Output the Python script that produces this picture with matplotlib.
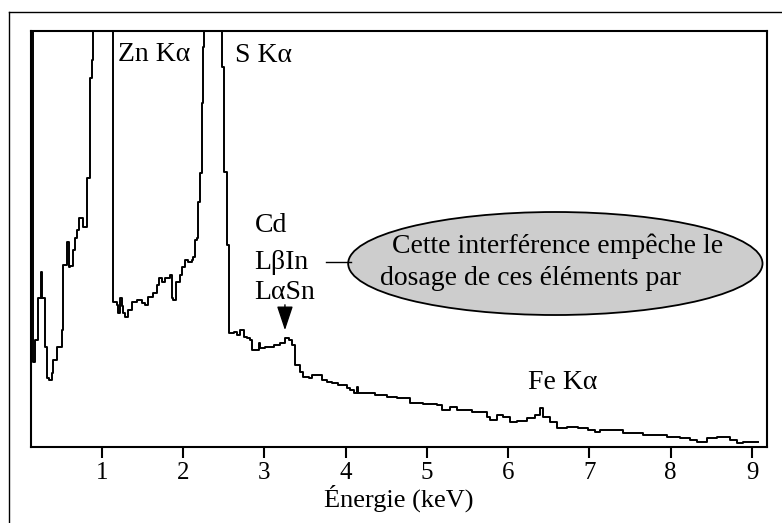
import matplotlib
matplotlib.use("Agg")
import matplotlib.pyplot as plt
from matplotlib.patches import Ellipse

plt.rcParams['font.family'] = ['Liberation Serif', 'DejaVu Serif']

# spectrum (energy in keV, counts in arbitrary units)
energie = [0.126, 0.138, 0.151, 0.175, 0.216, 0.216, 0.246, 0.246, 0.258, 0.278,
           0.298, 0.319, 0.351, 0.381, 0.401, 0.442, 0.474, 0.504, 0.524, 0.524,
           0.566, 0.598, 0.606, 0.647, 0.668, 0.689, 0.721, 0.762, 0.770, 0.811,
           0.811, 0.828, 0.852, 0.877, 0.889, 0.975, 1.120, 1.130, 1.139, 1.181,
           1.201, 1.222, 1.242, 1.262, 1.283, 1.324, 1.366, 1.427, 1.489, 1.529,
           1.570, 1.632, 1.673, 1.705, 1.735, 1.775, 1.837, 1.858, 1.878, 1.911,
           1.960, 1.981, 2.022, 2.062, 2.104, 2.124, 2.145, 2.166, 2.185, 2.206,
           2.206, 2.227, 2.247, 2.255, 2.330, 2.434, 2.478, 2.497, 2.497, 2.518,
           2.538, 2.558, 2.558, 2.578, 2.619, 2.661, 2.702, 2.742, 2.784, 2.825,
           2.846, 2.886, 2.927, 2.948, 3.009, 3.071, 3.112, 3.194, 3.255, 3.296,
           3.337, 3.378, 3.419, 3.440, 3.480, 3.542, 3.584, 3.665, 3.707, 3.768,
           3.830, 3.911, 3.972, 4.014, 4.055, 4.096, 4.137, 4.154, 4.219, 4.360,
           4.504, 4.627, 4.791, 4.954, 5.119, 5.180, 5.283, 5.365, 5.508, 5.550,
           5.673, 5.735, 5.775, 5.858, 5.939, 6.022, 6.104, 6.227, 6.329, 6.391,
           6.431, 6.514, 6.596, 6.719, 6.862, 6.985, 7.068, 7.129, 7.293, 7.416,
           7.539, 7.662, 7.785, 7.950, 8.114, 8.237, 8.319, 8.443, 8.566, 8.729,
           8.812, 8.894, 9.078]
coups = [500, 500, 85, 107, 107, 149, 149, 175, 149, 149,
         100, 69, 67, 74, 87, 100, 100, 117, 144, 182,
         205, 180, 181, 197, 209, 217, 229, 229, 220, 220,
         269, 269, 369, 387, 500, 500, 500, 290, 145, 142,
         134, 149, 141, 134, 130, 137, 145, 147, 144, 142,
         150, 154, 162, 169, 165, 169, 172, 149, 147, 165,
         172, 180, 187, 185, 187, 190, 207, 209, 245, 245,
         274, 344, 400, 500, 500, 416, 380, 334, 275, 275,
         202, 120, 114, 114, 115, 112, 117, 110, 109, 107,
         97, 97, 104, 99, 100, 100, 102, 104, 109, 107,
         102, 82, 82, 75, 70, 69, 72, 72, 67, 65,
         64, 62, 62, 59, 57, 54, 60, 54, 54, 52,
         50, 49, 44, 43, 42, 37, 40, 37, 37, 35,
         35, 30, 27, 32, 30, 25, 26, 29, 32, 39,
         30, 25, 19, 20, 19, 17, 15, 17, 17, 14,
         14, 12, 12, 10, 9, 7, 5, 9, 10, 7,
         4, 5, 5]

ticks = [1, 2, 3, 4, 5, 6, 7, 8, 9]

fig = plt.figure(figsize=(7.82, 5.23), dpi=100)
ax = fig.add_axes([0.0396, 0.1453, 0.9412, 0.7954])

ax.plot(energie, coups, color='black', lw=1.4, drawstyle='steps-post')
ax.set_xlim(0.126, 9.185)
ax.set_ylim(0, 416)
ax.set_yticks([])
ax.set_xticks(ticks)
ax.tick_params(axis='x', direction='out', length=8, width=1.5, labelsize=18, pad=3)
for s in ax.spines.values():
    s.set_linewidth(1.5)
ax.set_xlabel('Énergie (keV)', fontsize=19, labelpad=0)

fs = 20
ax.text(1.2, 393, 'Zn Kα', fontsize=fs, va='center', ha='left')
ax.text(2.637, 392, 'S Kα', fontsize=fs, va='center', ha='left')
ax.text(2.883, 222, 'Cd', fontsize=fs, va='center', ha='left')
ax.text(2.87, 185, 'LβIn', fontsize=fs, va='center', ha='left')
ax.text(2.87, 155, 'LαSn', fontsize=fs, va='center', ha='left')
ax.text(6.243, 65, 'Fe Kα', fontsize=fs, va='center', ha='left')

ax.annotate('', xy=(3.252, 114), xytext=(3.252, 145),
            arrowprops=dict(arrowstyle='-|>,head_length=0.6,head_width=0.2',
                            mutation_scale=25, color='black', lw=1))

ax.plot([3.76, 4.06], [185, 185], color='black', lw=1)
ell = Ellipse((6.58, 183.5), 5.1, 103, facecolor='#cdcdcd', edgecolor='black', lw=1.3)
ax.add_patch(ell)
ax.text(4.569, 201, 'Cette interférence empêche le', fontsize=fs, va='center', ha='left')
ax.text(4.422, 169, 'dosage de ces éléments par', fontsize=fs, va='center', ha='left')

# outer frame (only top and left edges visible)
fig.add_artist(plt.Line2D([9 / 782, 1], [1 - 12 / 523, 1 - 12 / 523], color='black', lw=1))
fig.add_artist(plt.Line2D([9 / 782, 9 / 782], [0, 1 - 12 / 523], color='black', lw=1))

fig.savefig('out.png', dpi=100)
